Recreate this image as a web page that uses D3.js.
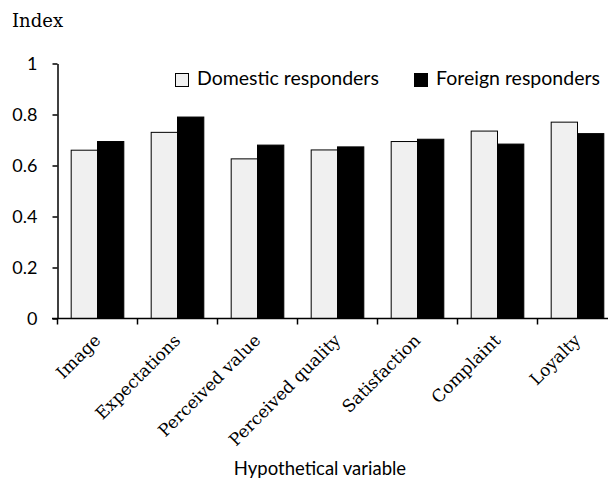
<!DOCTYPE html>
<html><head><meta charset="utf-8">
<script src="https://cdn.jsdelivr.net/npm/d3@7"></script>
<style>body{margin:0;background:#fff}</style>
</head><body>
<svg id="c" width="608" height="486"></svg>
<script>
const categories = ["Image","Expectations","Perceived value","Perceived quality","Satisfaction","Complaint","Loyalty"];
const seriesNames = ["Domestic responders","Foreign responders"];
const domestic = [0.66,0.73,0.626,0.661,0.694,0.735,0.77];
const foreign = [0.694,0.79,0.68,0.673,0.703,0.684,0.725];
const yTicks = [0,0.2,0.4,0.6,0.8,1];
const yTickLabels = ["0","0.2","0.4","0.6","0.8","1"];
const colors = ["#f0f0f0","#000000"];

const svg = d3.select("#c");
const x0 = 57.5, bandW = 80;
const x = d3.scaleBand().domain(categories).range([x0, x0 + bandW*categories.length]).paddingInner(0).paddingOuter(0);
const xs = d3.scaleBand().domain([0,1]).range([0, x.bandwidth()]).paddingOuter(0.52).paddingInner(0);
const y = d3.scaleLinear().domain([0,1]).range([318.5, 63.5]);
const sans = "Lato, sans-serif", serif = "'DejaVu Serif', serif";

const data = categories.map((c,i)=>({c, v:[domestic[i], foreign[i]]}));
const g = svg.append("g");
g.selectAll("g.cat").data(data).join("g").attr("class","cat")
  .attr("transform", d=>`translate(${x(d.c)},0)`)
  .selectAll("rect").data(d=>d.v.map((v,k)=>({v,k}))).join("rect")
  .attr("x", d=>xs(d.k)).attr("width", xs.bandwidth())
  .attr("y", d=>y(d.v)).attr("height", d=>y(0)-y(d.v))
  .attr("fill", d=>colors[d.k]).attr("stroke","#000").attr("stroke-width",1);

// y axis
const ya = svg.append("g").attr("transform",`translate(${x0},0)`)
  .call(d3.axisLeft(y).tickValues(yTicks).tickFormat((d,i)=>yTickLabels[i]).tickSize(5).tickSizeOuter(0));
ya.select(".domain").attr("stroke-width",1.5);
ya.selectAll("text").attr("font-family",sans).attr("font-size",18).attr("fill","#000").attr("x",-20);
ya.selectAll("line").attr("stroke-width",1.5);

// x axis
const xa = svg.append("g").attr("transform",`translate(0,${y(0)})`);
xa.append("line").attr("x1",52).attr("x2",608).attr("stroke","#000").attr("stroke-width",1.5);
xa.selectAll("line.t").data(categories).join("line").attr("class","t")
  .attr("x1",d=>x(d)).attr("x2",d=>x(d)).attr("y1",0).attr("y2",6).attr("stroke","#000").attr("stroke-width",1.5);
xa.selectAll("text").data(categories).join("text")
  .attr("transform", d=>`translate(${x(d)+x.bandwidth()/2+4},23) rotate(-45)`)
  .attr("text-anchor","end")
  .attr("font-family",serif).attr("font-size",17).text(d=>d);

// titles
svg.append("text").attr("x",12).attr("y",27).attr("font-family",serif).attr("font-size",18).text("Index");
svg.append("text").attr("x",320).attr("y",475).attr("text-anchor","middle").attr("font-family",sans).attr("font-size",18.5).text("Hypothetical variable");

// legend
const legX = [175, 414];
const lg = svg.selectAll("g.leg").data(seriesNames).join("g").attr("class","leg")
  .attr("transform",(d,i)=>`translate(${legX[i]},73.5)`);
lg.append("rect").attr("x",0.5).attr("width",13).attr("height",13).attr("fill",(d,i)=>colors[i]).attr("stroke","#000");
lg.append("text").attr("x",22).attr("y",11.5).attr("font-family",sans).attr("font-size",19.5).text(d=>d);
</script>
</body></html>
